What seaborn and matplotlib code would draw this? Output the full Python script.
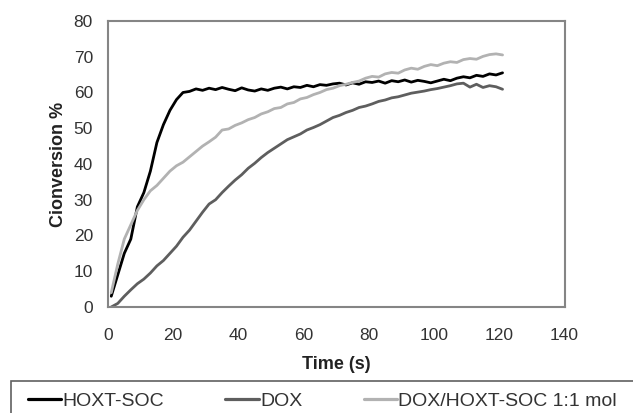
#%% photopolymerization conversion vs time
import pandas as pd
import matplotlib
matplotlib.use("Agg")
import matplotlib.pyplot as plt
from matplotlib.patches import Rectangle
import seaborn as sns

time_s = list(range(1, 122, 2))

hoxt_soc = [3, 9, 15, 19, 28, 32, 38, 46, 51, 55, 58, 60, 60.3, 61, 60.6, 61.2,
            60.8, 61.4, 60.9, 60.5, 61.3, 60.7, 60.4, 61.0, 60.6, 61.2, 61.5, 61.0,
            61.6, 61.4, 62.0, 61.6, 62.2, 62.0, 62.4, 62.6, 62.1, 62.7, 62.3, 63.0,
            62.8, 63.2, 62.6, 63.3, 63.0, 63.5, 62.9, 63.4, 63.1, 62.7, 63.2, 63.7,
            63.3, 64.0, 64.4, 64.1, 64.8, 64.5, 65.2, 64.9, 65.5]

dox = [0, 1, 3, 4.8, 6.5, 7.8, 9.5, 11.5, 13, 15, 17, 19.5, 21.5, 24, 26.5, 28.8,
       30, 32, 33.8, 35.5, 37, 38.8, 40.2, 41.8, 43.2, 44.4, 45.6, 46.8, 47.6, 48.4,
       49.5, 50.2, 51, 52, 53, 53.6, 54.4, 55, 55.8, 56.2, 56.8, 57.5, 57.9, 58.5,
       58.8, 59.3, 59.8, 60.1, 60.4, 60.8, 61.1, 61.5, 61.9, 62.4, 62.6, 61.5, 62.3,
       61.4, 61.9, 61.6, 60.9]

dox_hoxt = [4, 12, 19, 23, 27, 30, 32.5, 34, 36, 38, 39.5, 40.5, 42, 43.5, 45, 46.2,
            47.5, 49.5, 49.8, 50.8, 51.5, 52.4, 53, 54, 54.6, 55.5, 55.8, 56.8, 57.2,
            58.2, 58.6, 59.4, 60, 60.8, 61.2, 61.9, 62.3, 62.8, 63.2, 64, 64.5, 64.3,
            65.2, 65.6, 65.4, 66.3, 66.8, 66.5, 67.3, 67.8, 67.5, 68.2, 68.6, 68.4, 69.2,
            69.5, 69.3, 70.1, 70.6, 70.8, 70.5]

labels = ["HOXT-SOC", "DOX", "DOX/HOXT-SOC 1:1 mol"]
colors = ["#000000", "#5e5e5e", "#b2b2b2"]

df = pd.DataFrame({
    "t": time_s * 3,
    "conv": hoxt_soc + dox + dox_hoxt,
    "sample": [labels[0]] * len(time_s) + [labels[1]] * len(time_s) + [labels[2]] * len(time_s),
})

sns.set_style("white")
plt.rcParams["font.family"] = ["Liberation Sans", "DejaVu Sans"]

fig = plt.figure(figsize=(6.33, 4.13), dpi=100)
ax = fig.add_axes([0.1706, 0.2567, 0.7212, 0.6925])

sns.lineplot(data=df, x="t", y="conv", hue="sample", palette=colors,
             hue_order=labels, linewidth=2, ax=ax, legend=False)

ax.set_xlim(0, 140)
ax.set_ylim(0, 80)
ax.set_xticks(range(0, 141, 20))
ax.set_yticks(range(0, 81, 10))
for s in ax.spines.values():
    s.set_color("#858585")
    s.set_linewidth(1.5)
ax.tick_params(axis="y", direction="out", length=6.5, width=1.5, color="#858585",
               labelsize=12.5, labelcolor="#333333", pad=4.3)
ax.tick_params(axis="x", direction="inout", length=9, width=1.5, color="#858585",
               labelsize=12.5, labelcolor="#333333", pad=10.5)
ax.set_xlabel("Time (s)", fontsize=13, fontweight="bold", color="#222222", labelpad=9.5)
ax.set_ylabel("Cionversion %", fontsize=13, fontweight="bold", color="#222222", labelpad=5)

# legend box running off the figure edge
fig.patches.append(Rectangle((11 / 633, -0.05), 1.0, 1 - 380.7 / 413 + 0.05,
                             transform=fig.transFigure, fill=False,
                             edgecolor="#606060", linewidth=1.2))
handles = [plt.Line2D([], [], color=c, linewidth=2.3) for c in colors]
fig.legend(handles, labels, loc="center left", bbox_to_anchor=(28 / 633, 1 - 401 / 413),
           ncol=3, frameon=False, fontsize=14, handlelength=1.7, handletextpad=0.08,
           columnspacing=3.15, borderaxespad=0, borderpad=0, labelcolor="#333333")

fig.savefig("out.png", dpi=100)
